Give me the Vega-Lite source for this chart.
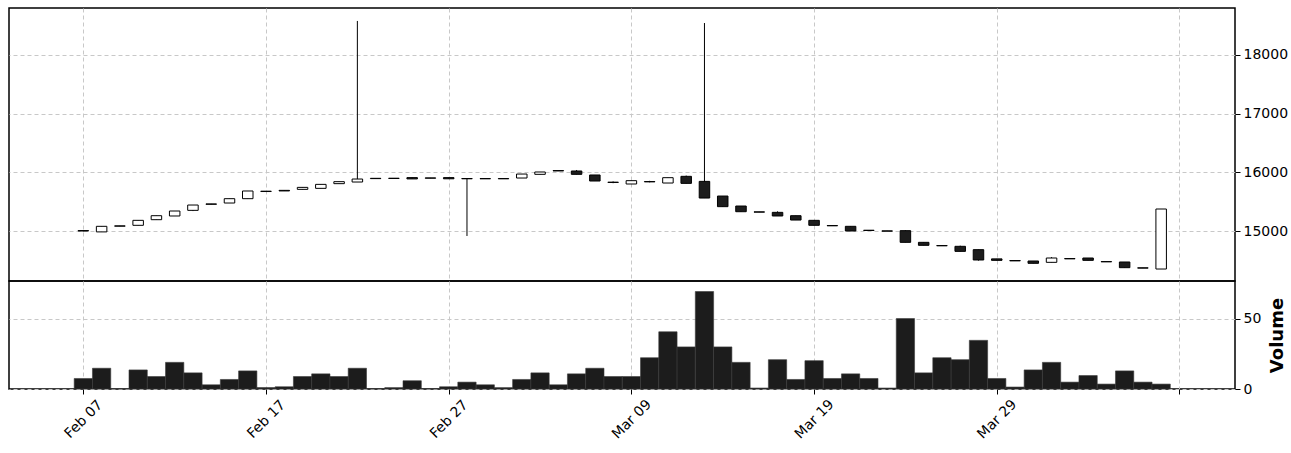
{
  "$schema": "https://vega.github.io/schema/vega-lite/v6.json",
  "padding": {"left": 8, "top": 7, "right": 0, "bottom": 0},
  "background": "white",
  "spacing": 0,
  "bounds": "flush",
  "datasets": {
    "ohlc": [
      {"date": "2023-02-07", "open": 15000, "high": 15010, "low": 14995, "close": 15008, "volume": 7.5},
      {"date": "2023-02-08", "open": 14985, "high": 15080, "low": 14985, "close": 15080, "volume": 14.8},
      {"date": "2023-02-09", "open": 15082, "high": 15088, "low": 15082, "close": 15088, "volume": 0.2},
      {"date": "2023-02-10", "open": 15097, "high": 15182, "low": 15097, "close": 15182, "volume": 13.6},
      {"date": "2023-02-11", "open": 15193, "high": 15261, "low": 15193, "close": 15261, "volume": 8.9},
      {"date": "2023-02-12", "open": 15256, "high": 15341, "low": 15256, "close": 15341, "volume": 19},
      {"date": "2023-02-13", "open": 15352, "high": 15443, "low": 15340, "close": 15443, "volume": 11.5},
      {"date": "2023-02-14", "open": 15455, "high": 15462, "low": 15455, "close": 15462, "volume": 3},
      {"date": "2023-02-15", "open": 15477, "high": 15551, "low": 15477, "close": 15551, "volume": 6.8},
      {"date": "2023-02-16", "open": 15551, "high": 15682, "low": 15551, "close": 15682, "volume": 12.9},
      {"date": "2023-02-17", "open": 15673, "high": 15679, "low": 15673, "close": 15679, "volume": 1},
      {"date": "2023-02-18", "open": 15693, "high": 15693, "low": 15683, "close": 15683, "volume": 1.6},
      {"date": "2023-02-19", "open": 15710, "high": 15744, "low": 15710, "close": 15744, "volume": 8.9},
      {"date": "2023-02-20", "open": 15727, "high": 15795, "low": 15727, "close": 15795, "volume": 10.8},
      {"date": "2023-02-21", "open": 15807, "high": 15841, "low": 15807, "close": 15841, "volume": 8.9},
      {"date": "2023-02-22", "open": 15835, "high": 18580, "low": 15835, "close": 15886, "volume": 14.8},
      {"date": "2023-02-23", "open": 15893, "high": 15898, "low": 15893, "close": 15898, "volume": 0.2},
      {"date": "2023-02-24", "open": 15895, "high": 15900, "low": 15895, "close": 15900, "volume": 1},
      {"date": "2023-02-25", "open": 15910, "high": 15910, "low": 15888, "close": 15888, "volume": 5.9},
      {"date": "2023-02-26", "open": 15900, "high": 15905, "low": 15900, "close": 15905, "volume": 0.2},
      {"date": "2023-02-27", "open": 15910, "high": 15910, "low": 15890, "close": 15890, "volume": 1.6},
      {"date": "2023-02-28", "open": 15890, "high": 15895, "low": 14915, "close": 15895, "volume": 4.9},
      {"date": "2023-03-01", "open": 15890, "high": 15894, "low": 15890, "close": 15894, "volume": 3},
      {"date": "2023-03-02", "open": 15890, "high": 15894, "low": 15890, "close": 15894, "volume": 1},
      {"date": "2023-03-03", "open": 15903, "high": 15971, "low": 15903, "close": 15971, "volume": 6.8},
      {"date": "2023-03-04", "open": 15966, "high": 16006, "low": 15966, "close": 16006, "volume": 11.5},
      {"date": "2023-03-05", "open": 16030, "high": 16030, "low": 16024, "close": 16024, "volume": 3},
      {"date": "2023-03-06", "open": 16023, "high": 16040, "low": 15966, "close": 15966, "volume": 10.8},
      {"date": "2023-03-07", "open": 15955, "high": 15955, "low": 15852, "close": 15852, "volume": 14.8},
      {"date": "2023-03-08", "open": 15832, "high": 15845, "low": 15815, "close": 15828, "volume": 8.9},
      {"date": "2023-03-09", "open": 15801, "high": 15858, "low": 15801, "close": 15858, "volume": 8.9},
      {"date": "2023-03-10", "open": 15843, "high": 15855, "low": 15830, "close": 15838, "volume": 22.3},
      {"date": "2023-03-11", "open": 15818, "high": 15909, "low": 15818, "close": 15909, "volume": 40.8},
      {"date": "2023-03-12", "open": 15932, "high": 15945, "low": 15812, "close": 15812, "volume": 30},
      {"date": "2023-03-13", "open": 15846, "high": 18545, "low": 15562, "close": 15562, "volume": 69.5},
      {"date": "2023-03-14", "open": 15596, "high": 15596, "low": 15415, "close": 15415, "volume": 30},
      {"date": "2023-03-15", "open": 15426, "high": 15426, "low": 15329, "close": 15329, "volume": 19},
      {"date": "2023-03-16", "open": 15326, "high": 15326, "low": 15322, "close": 15322, "volume": 0.7},
      {"date": "2023-03-17", "open": 15318, "high": 15335, "low": 15256, "close": 15256, "volume": 20.9},
      {"date": "2023-03-18", "open": 15261, "high": 15261, "low": 15187, "close": 15187, "volume": 6.8},
      {"date": "2023-03-19", "open": 15182, "high": 15182, "low": 15097, "close": 15097, "volume": 20.2},
      {"date": "2023-03-20", "open": 15093, "high": 15093, "low": 15089, "close": 15089, "volume": 7.5},
      {"date": "2023-03-21", "open": 15080, "high": 15080, "low": 15000, "close": 15000, "volume": 10.8},
      {"date": "2023-03-22", "open": 15013, "high": 15013, "low": 15009, "close": 15009, "volume": 7.5},
      {"date": "2023-03-23", "open": 15002, "high": 15002, "low": 14998, "close": 14998, "volume": 0.7},
      {"date": "2023-03-24", "open": 15006, "high": 15012, "low": 14807, "close": 14807, "volume": 50.2},
      {"date": "2023-03-25", "open": 14807, "high": 14807, "low": 14756, "close": 14756, "volume": 11.5},
      {"date": "2023-03-26", "open": 14752, "high": 14752, "low": 14748, "close": 14748, "volume": 22.3},
      {"date": "2023-03-27", "open": 14739, "high": 14750, "low": 14653, "close": 14653, "volume": 20.9},
      {"date": "2023-03-28", "open": 14682, "high": 14682, "low": 14495, "close": 14506, "volume": 34.7},
      {"date": "2023-03-29", "open": 14525, "high": 14525, "low": 14500, "close": 14500, "volume": 7.5},
      {"date": "2023-03-30", "open": 14497, "high": 14497, "low": 14491, "close": 14491, "volume": 1.4},
      {"date": "2023-03-31", "open": 14489, "high": 14489, "low": 14449, "close": 14449, "volume": 13.6},
      {"date": "2023-04-01", "open": 14466, "high": 14555, "low": 14466, "close": 14540, "volume": 19},
      {"date": "2023-04-02", "open": 14530, "high": 14530, "low": 14526, "close": 14526, "volume": 4.9},
      {"date": "2023-04-03", "open": 14540, "high": 14540, "low": 14500, "close": 14500, "volume": 9.6},
      {"date": "2023-04-04", "open": 14479, "high": 14479, "low": 14475, "close": 14475, "volume": 3.5},
      {"date": "2023-04-05", "open": 14472, "high": 14472, "low": 14375, "close": 14375, "volume": 12.9},
      {"date": "2023-04-06", "open": 14372, "high": 14372, "low": 14368, "close": 14368, "volume": 4.9},
      {"date": "2023-04-07", "open": 14352, "high": 15375, "low": 14352, "close": 15375, "volume": 3.5}
    ]
  },
  "config": {
    "font": "DejaVu Sans",
    "view": {"stroke": "black", "strokeWidth": 1.5},
    "axis": {
      "labelFont": "DejaVu Sans",
      "labelFontSize": 14,
      "labelColor": "black",
      "tickColor": "black",
      "tickSize": 5,
      "tickWidth": 1,
      "domain": false,
      "gridColor": "#c8c8c8",
      "gridDash": [4, 3],
      "gridWidth": 1
    }
  },
  "vconcat": [
    {
      "width": 1226,
      "height": 273,
      "data": {"name": "ohlc"},
      "encoding": {
        "x": {
          "field": "date",
          "type": "temporal",
          "scale": {
            "type": "utc",
            "padding": 0,
            "domain": [
              {"year": 2023, "month": 2, "date": 2, "hours": 22, "minutes": 20, "utc": true},
              {"year": 2023, "month": 4, "date": 11, "hours": 1, "utc": true}
            ]
          },
          "axis": {
            "values": [
              {"year": 2023, "month": 2, "date": 7, "utc": true},
              {"year": 2023, "month": 2, "date": 17, "utc": true},
              {"year": 2023, "month": 2, "date": 27, "utc": true},
              {"year": 2023, "month": 3, "date": 9, "utc": true},
              {"year": 2023, "month": 3, "date": 19, "utc": true},
              {"year": 2023, "month": 3, "date": 29, "utc": true},
              {"year": 2023, "month": 4, "date": 8, "utc": true}
            ],
            "labels": false,
            "ticks": false,
            "domain": false,
            "grid": true,
            "title": null,
            "minExtent": 0,
            "maxExtent": 0
          }
        }
      },
      "layer": [
        {
          "mark": {"type": "rule", "color": "black", "strokeWidth": 1},
          "encoding": {
            "y": {
              "field": "low",
              "type": "quantitative",
              "scale": {"domain": [14148, 18801], "nice": false, "zero": false, "padding": 0},
              "axis": {
                "orient": "right",
                "values": [15000, 16000, 17000, 18000],
                "format": "d",
                "title": null,
                "grid": true,
                "labelPadding": 3
              }
            },
            "y2": {"field": "high"}
          }
        },
        {
          "mark": {"type": "bar", "width": 10.5, "stroke": "black", "strokeWidth": 1},
          "encoding": {
            "y": {"field": "open", "type": "quantitative"},
            "y2": {"field": "close"},
            "fill": {
              "condition": {"test": "datum.close >= datum.open", "value": "white"},
              "value": "#1c1c1c"
            }
          }
        }
      ]
    },
    {
      "width": 1226,
      "height": 108,
      "data": {"name": "ohlc"},
      "mark": {"type": "bar", "width": 18.3, "fill": "#1c1c1c", "stroke": "#3a3a3a", "strokeWidth": 0.6},
      "encoding": {
        "x": {
          "field": "date",
          "type": "temporal",
          "scale": {
            "type": "utc",
            "padding": 0,
            "domain": [
              {"year": 2023, "month": 2, "date": 2, "hours": 22, "minutes": 20, "utc": true},
              {"year": 2023, "month": 4, "date": 11, "hours": 1, "utc": true}
            ]
          },
          "axis": {
            "values": [
              {"year": 2023, "month": 2, "date": 7, "utc": true},
              {"year": 2023, "month": 2, "date": 17, "utc": true},
              {"year": 2023, "month": 2, "date": 27, "utc": true},
              {"year": 2023, "month": 3, "date": 9, "utc": true},
              {"year": 2023, "month": 3, "date": 19, "utc": true},
              {"year": 2023, "month": 3, "date": 29, "utc": true},
              {"year": 2023, "month": 4, "date": 8, "utc": true}
            ],
            "format": "%b %d",
            "labelExpr": "utcmonth(datum.value) == 3 && utcdate(datum.value) == 8 ? '' : datum.label",
            "labelAngle": -45,
            "labelAlign": "center",
            "labelBaseline": "middle",
            "labelPadding": 25,
            "labelOverlap": false,
            "grid": true,
            "title": null
          }
        },
        "y": {
          "field": "volume",
          "type": "quantitative",
          "scale": {"domain": [0, 77], "nice": false, "padding": 0},
          "axis": {
            "orient": "right",
            "values": [0, 50],
            "format": "d",
            "title": "Volume",
            "titleFontWeight": "bold",
            "titleFontSize": 18,
            "titleAngle": -90,
            "titleColor": "black",
            "titleFont": "DejaVu Sans",
            "titleBaseline": "middle",
            "titlePadding": 17,
            "grid": true,
            "labelPadding": 3
          }
        }
      }
    }
  ]
}
